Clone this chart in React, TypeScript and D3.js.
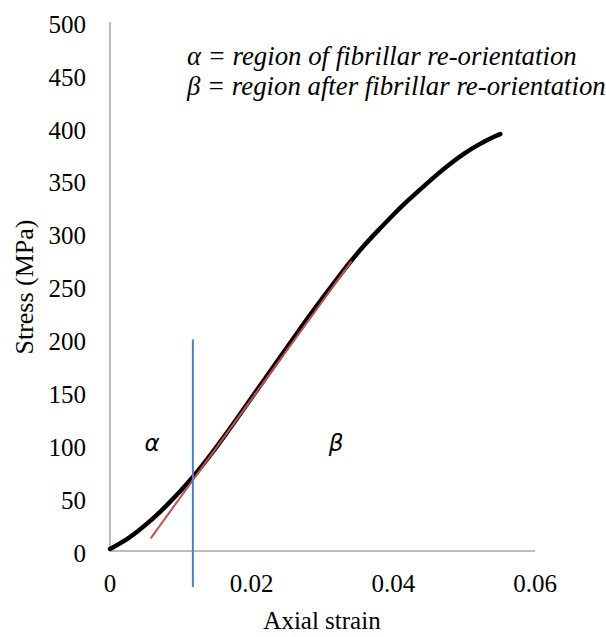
import React from "react";
import * as d3 from "d3";

const strain = [0, 0.002, 0.004, 0.006, 0.008, 0.01, 0.012, 0.014, 0.016, 0.018, 0.02, 0.022, 0.024, 0.026, 0.028, 0.03, 0.032, 0.034, 0.036, 0.038, 0.04, 0.042, 0.044, 0.046, 0.048, 0.05, 0.052, 0.054, 0.0551];
const stress = [2, 9, 19, 30, 43, 57, 72, 89, 107, 126, 145, 164, 183, 202, 221, 239, 257, 274, 290, 304, 318, 331, 343, 355, 366, 376, 384, 391, 394];
const fitStrain = [0.00575, 0.0341];
const fitStress = [12, 274];
const boundaryStrain = [0.0117, 0.0117];
const boundaryStress = [200, -34];
const xTicks = [0, 0.02, 0.04, 0.06];
const yTicks = [0, 50, 100, 150, 200, 250, 300, 350, 400, 450, 500];
const legendLines = ["α = region of fibrillar re-orientation", "β = region after fibrillar re-orientation"];

const W = 606, H = 637;

export default function App() {
  const x = d3.scaleLinear().domain([0, 0.06]).range([110, 535]);
  const y = d3.scaleLinear().domain([0, 500]).range([551, 22]);
  const line = d3.line<[number, number]>().x(d => x(d[0])).y(d => y(d[1])).curve(d3.curveBasis);
  const curve = strain.map((s, i) => [s, stress[i]] as [number, number]);
  const serif = "'Liberation Serif', 'Times New Roman', serif";
  return (
    <svg width={W} height={H} style={{ position: "absolute", left: 0, top: 0 }}>
      <rect width={W} height={H} fill="#fff" />
      <line x1={x(0)} x2={x(0)} y1={y(500)} y2={y(0)} stroke="#a6a6a6" strokeWidth={1.5} />
      <line x1={x(0)} x2={x(0.06)} y1={y(0)} y2={y(0)} stroke="#a6a6a6" strokeWidth={1.5} />
      {yTicks.map(t => (
        <text key={t} x={86} y={y(t) + 2} dy="0.35em" textAnchor="end" fontFamily={serif} fontSize={25} fill="#000">{t}</text>
      ))}
      {xTicks.map(t => (
        <text key={t} x={x(t)} y={592} textAnchor="middle" fontFamily={serif} fontSize={25} fill="#000">{t}</text>
      ))}
      <text x={322} y={629} textAnchor="middle" fontFamily={serif} fontSize={25} fill="#000">Axial strain</text>
      <text transform="translate(33,287) rotate(-90)" textAnchor="middle" fontFamily={serif} fontSize={26} fill="#000">Stress (MPa)</text>
      <path d={line(curve) || ""} fill="none" stroke="#000" strokeWidth={4.5} strokeLinecap="round" />
      <line x1={x(fitStrain[0])} y1={y(fitStress[0])} x2={x(fitStrain[1])} y2={y(fitStress[1])} stroke="#c0504d" strokeWidth={2} />
      <line x1={x(boundaryStrain[0])} y1={y(boundaryStress[0])} x2={x(boundaryStrain[1])} y2={y(boundaryStress[1])} stroke="#4f81bd" strokeWidth={2} />
      <text x={152} y={451} textAnchor="middle" fontFamily="'DejaVu Sans', sans-serif" fontStyle="italic" fontSize={23} fill="#000">α</text>
      <text x={336} y={451} textAnchor="middle" fontFamily="'DejaVu Sans', sans-serif" fontStyle="italic" fontSize={23} fill="#000">β</text>
      {legendLines.map((s, i) => (
        <text key={i} x={187} y={65 + i * 30} fontFamily={serif} fontStyle="italic" fontSize={26.8} fill="#000">{s}</text>
      ))}
    </svg>
  );
}
